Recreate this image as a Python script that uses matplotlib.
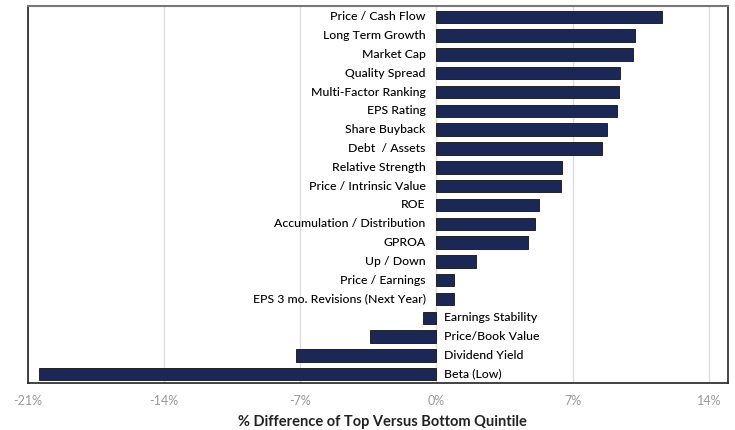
import numpy as np
import matplotlib.pyplot as plt

plt.rcParams['font.family'] = ['Lato', 'DejaVu Sans']

# factors, top to bottom
factors = ['Price / Cash Flow', 'Long Term Growth', 'Market Cap', 'Quality Spread',
           'Multi-Factor Ranking', 'EPS Rating', 'Share Buyback', 'Debt  / Assets',
           'Relative Strength', 'Price / Intrinsic Value', 'ROE',
           'Accumulation / Distribution', 'GPROA', 'Up / Down', 'Price / Earnings',
           'EPS 3 mo. Revisions (Next Year)', 'Earnings Stability', 'Price/Book Value',
           'Dividend Yield', 'Beta (Low)']
diff_pct = [11.6, 10.2, 10.1, 9.45, 9.38, 9.26, 8.77, 8.49, 6.44, 6.40, 5.29, 5.07,
            4.71, 2.05, 0.89, 0.89, -0.68, -3.43, -7.2, -20.4]
xticks = [-21, -14, -7, 0, 7, 14]

n = len(factors)
y = np.arange(n)[::-1]

fig = plt.figure(figsize=(7.35, 4.30), dpi=100)
ax = fig.add_axes([0.0377, 0.110, 0.9532, 0.875])

ax.barh(y, diff_pct, height=0.66, color='#1b2856', edgecolor='#111111', linewidth=0.6, zorder=3)

# labels sit next to the zero line
for yi, name, v in zip(y, factors, diff_pct):
    if v >= 0:
        ax.text(-0.55, yi, name, ha='right', va='center', fontsize=8.8, fontweight='medium',
                color='#000000')
    else:
        ax.text(0.4, yi, name, ha='left', va='center', fontsize=8.8, fontweight='medium',
                color='#000000')

ax.set_xlim(-21, 15)
ax.set_ylim(-0.45, n - 0.45)
ax.set_yticks([])
ax.set_xticks(xticks)
ax.set_xticklabels([f'{t}%' for t in xticks], color='#999999', fontsize=9)
ax.tick_params(axis='x', length=0, pad=9)
ax.grid(axis='x', color='#dddddd', linewidth=1, zorder=0)

for side in ['left', 'bottom', 'right']:
    ax.spines[side].set_color('#222222')
    ax.spines[side].set_linewidth(1.2)
ax.spines['top'].set_color('#777777')
ax.spines['top'].set_linewidth(1.5)

ax.set_xlabel('% Difference of Top Versus Bottom Quintile', fontsize=10.5, fontweight='bold',
              color='#222222')
ax.xaxis.set_label_coords(0.506, -0.085)

fig.savefig('out.png', dpi=100)
